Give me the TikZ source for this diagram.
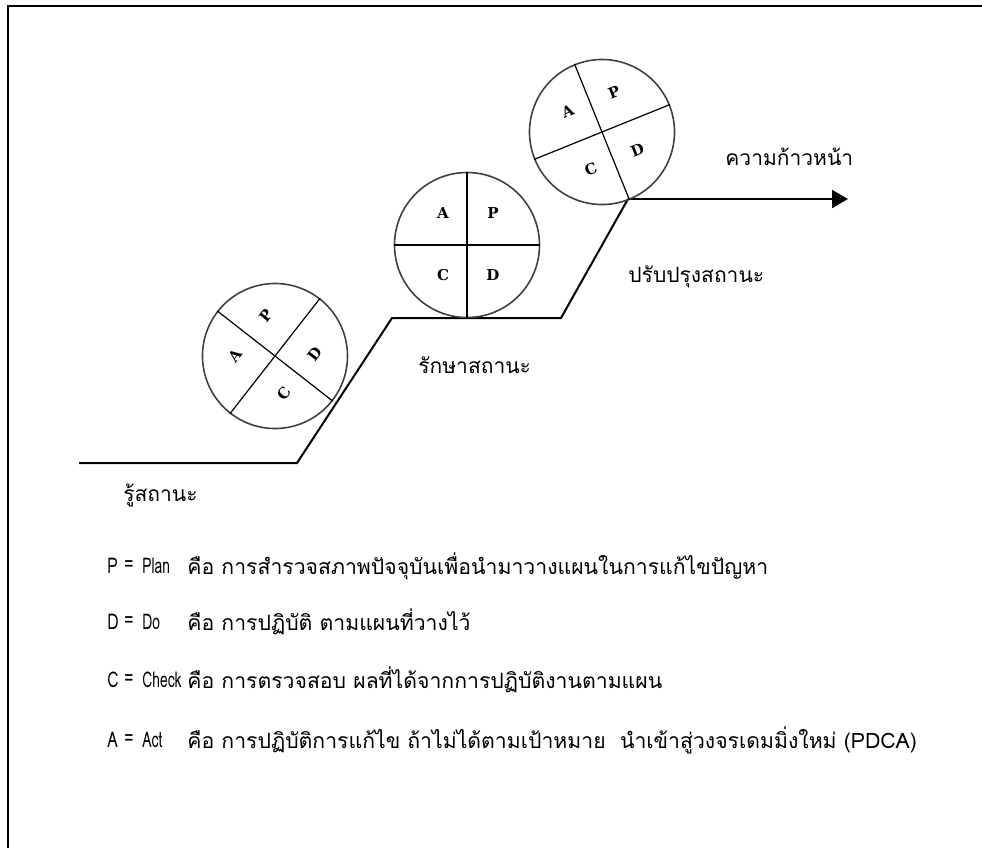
\documentclass[tikz,border=0pt]{standalone}
\usepackage{fontspec}
\newfontfamily\thaifont[Script=Thai]{Loma}
\newfontfamily\narrowfont[Script=Thai,FakeStretch=0.72]{Loma}
\newfontfamily\wordfont[Script=Thai,FakeStretch=0.64]{Loma}
\newfontfamily\wheelfont{DejaVu Serif}
\usetikzlibrary{arrows.meta}

\begin{document}
\begin{tikzpicture}[x=0.5pt,y=-0.5pt,
  lbl/.style={anchor=west,inner sep=0pt,font=\thaifont\fontsize{10.5}{13}\selectfont},
  desc/.style={anchor=west,inner sep=0pt,font=\thaifont\fontsize{10.6}{12}\selectfont},
  key/.style={anchor=west,inner sep=0pt,font=\narrowfont\fontsize{10.8}{12}\selectfont},
  word/.style={anchor=west,inner sep=0pt,font=\wordfont\fontsize{10.8}{12}\selectfont},
  pdca/.style={circle,draw=black!75,line width=0.8pt,minimum size=72.5pt,inner sep=0pt},
  quad/.style={line width=0.6pt},
  qlet/.style={inner sep=0pt,font=\wheelfont\bfseries\fontsize{7.5}{7.5}\selectfont},
  stair/.style={line width=1pt}]
\useasboundingbox (0,0) rectangle (982,848);
\draw[line width=1.4pt] (8,848) -- (8,6) -- (982,6);
% staircase
\coordinate (s0) at (79,463);
\coordinate (s1) at (297,463);
\coordinate (s2) at (392,318);
\coordinate (s3) at (561,318);
\coordinate (s4) at (628,199);
\coordinate (s5) at (848,199);
\draw[stair] (s0) -- (s1) -- (s2) -- (s3) -- (s4);
\draw[stair,-{Triangle[length=8pt,width=9pt]}] (s4) -- (s5);
% PDCA wheels
\foreach \n/\x/\y/\r in {c1/275/356/52,c2/467/245/0,c3/602/132/22} {
  \begin{scope}[shift={(\x,\y)},rotate=\r,transform shape]
    \node[pdca] (\n) at (0,0) {};
    \draw[quad] (\n.north) -- (\n.south);
    \draw[quad] (\n.west) -- (\n.east);
    \foreach \l/\px/\py in {A/-24/-32,P/26/-32,C/-24/30,D/26/30}
      \node[qlet] (\n-\l) at (\px,\py) {\l};
  \end{scope}
}
% stage labels
\node[lbl] (prog) at (725,157) {ความก้าวหน้า};
\node[lbl] (impr) at (628,277) {ปรับปรุงสถานะ};
\node[lbl] (keep) at (418,365) {รักษาสถานะ};
\node[lbl] (know) at (123,495) {รู้สถานะ};
% legend
\foreach \k/\w/\t/\yy in {%
  P/Plan/การสำรวจสภาพปัจจุบันเพื่อนำมาวางแผนในการแก้ไขปัญหา/566,
  D/Do/การปฏิบัติ ตามแผนที่วางไว้/622,
  C/Check/การตรวจสอบ ผลที่ได้จากการปฏิบัติงานตามแผน/680,
  A/Act/การปฏิบัติการแก้ไข ถ้าไม่ได้ตามเป้าหมาย\ \ นำเข้าสู่วงจรเดมมิ่งใหม่ (PDCA)/740} {
  \node[key] (\k-key) at (107,\yy) {\k};
  \node[key] (\k-eq) at (124,\yy) {=};
  \node[word] (\k-word) at (142,\yy) {\w};
  \node[desc] (\k-desc) at (187,\yy) {คือ \t};
}
\end{tikzpicture}
\end{document}
